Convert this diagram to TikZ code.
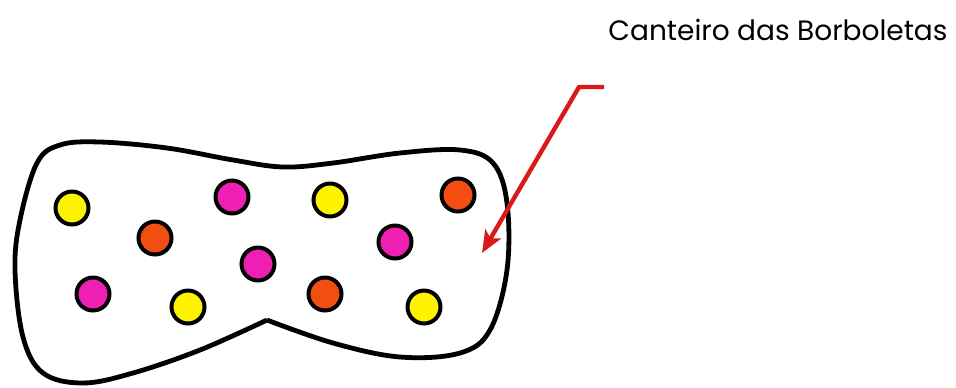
\documentclass[tikz,border=0pt]{standalone}
\usepackage{fontspec}
\setmainfont{Poppins}
\usepackage{xcolor}
\usetikzlibrary{arrows.meta,positioning}
\definecolor{flyellow}{HTML}{FFF200}
\definecolor{flpink}{HTML}{EE1FB2}
\definecolor{florange}{HTML}{F24E12}
\definecolor{flred}{HTML}{DA1A1A}
\tikzset{
  flower/.style={
    circle,
    draw=black,
    line width=2pt,
    minimum size=16.5pt,
    inner sep=0pt
  },
  bed/.style={
    draw=black,
    line width=2.4pt,
    fill=white
  },
  pointer/.style={
    -{Stealth[length=11pt,width=9pt,inset=2.5pt]},
    line width=2.2pt,
    draw=flred
  },
  label/.style={
    font=\fontsize{14}{17}\selectfont,
    text=black
  }
}

\begin{document}
\begin{tikzpicture}[x=0.5pt,y=-0.5pt]

\useasboundingbox (0,0) rectangle (956,387);

% the flower bed
\draw[bed] plot[smooth, tension=0.6] coordinates {
  (267,320) (333,343) (400,357) (460,353) (490,330) (507,270) (507,203)
  (493,163) (460,150) (400,153) (333,163) (283,167) (233,160) (167,148)
  (100,142) (60,145) (37,163) (20,220) (15,270) (23,337) (43,373)
  (83,383) (133,373) (200,350) (267,320)};

% flowers
\node[flower, fill=flyellow] (f1) at (72,208) {};
\node[flower, fill=florange] (f2) at (155,238) {};
\node[flower, fill=flpink] (f3) at (232,197) {};
\node[flower, fill=flyellow] (f4) at (330,200) {};
\node[flower, fill=florange] (f5) at (458,195) {};
\node[flower, fill=flpink] (f6) at (395,242) {};
\node[flower, fill=flpink] (f7) at (258,264) {};
\node[flower, fill=flpink] (f8) at (93,294) {};
\node[flower, fill=flyellow] (f9) at (188,307) {};
\node[flower, fill=florange] (f10) at (325,294) {};
\node[flower, fill=flyellow] (f11) at (424,307) {};

\node[label] (title) at (778,30) {Canteiro das Borboletas};

\coordinate (start) at (604,87);
\coordinate (bend) at (579,87);
\coordinate (target) at (482,253);
\draw[pointer] (start) -- (bend) -- (target);

\end{tikzpicture}
\end{document}
